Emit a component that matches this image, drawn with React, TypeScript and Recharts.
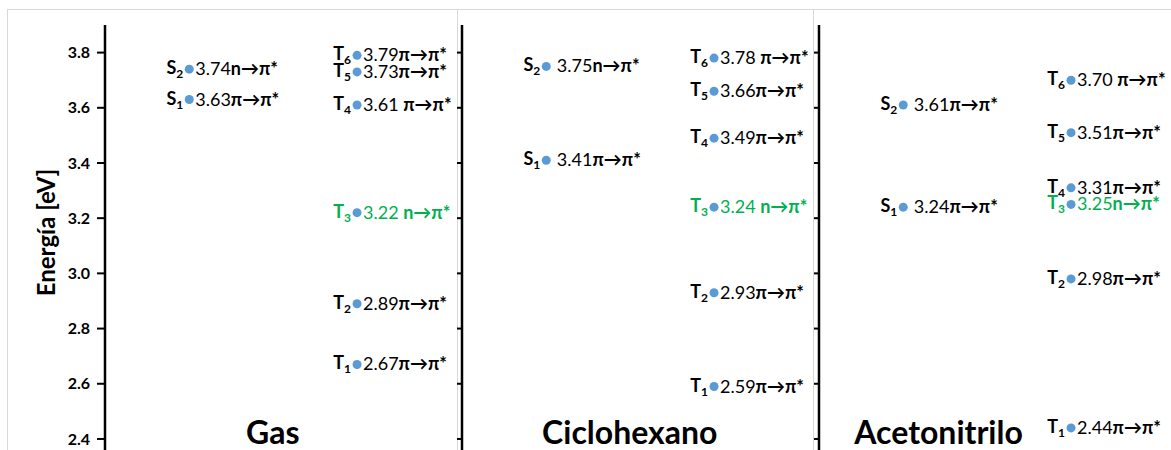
import React from 'react';
import { ScatterChart, Scatter, XAxis, YAxis, ReferenceLine, ReferenceDot } from 'recharts';

// solvents and excited states
const solvents = ['Gas', 'Ciclohexano', 'Acetonitrilo'];
const stateNames = ['S2', 'S1', 'T6', 'T5', 'T4', 'T3', 'T2', 'T1'];
const highlightState = 'T3';

const gasEnergies = [3.74, 3.63, 3.79, 3.73, 3.61, 3.22, 2.89, 2.67];
const gasTransitions = ['n→π*', 'π→π*', 'π→π*', 'π→π*', 'π→π*', 'n→π*', 'π→π*', 'π→π*'];
const gasLeads = ['', '', '', '', '', '', '', ''];
const gasGaps = ['', '', '', '', ' ', ' ', '', ''];

const cicloEnergies = [3.75, 3.41, 3.78, 3.66, 3.49, 3.24, 2.93, 2.59];
const cicloTransitions = ['n→π*', 'π→π*', 'π→π*', 'π→π*', 'π→π*', 'n→π*', 'π→π*', 'π→π*'];
const cicloLeads = [' ', ' ', '', '', '', '', '', ''];
const cicloGaps = ['', '', ' ', '', '', ' ', '', ''];

const acetoEnergies = [3.61, 3.24, 3.70, 3.51, 3.31, 3.25, 2.98, 2.44];
const acetoTransitions = ['π→π*', 'π→π*', 'π→π*', 'π→π*', 'π→π*', 'n→π*', 'π→π*', 'π→π*'];
const acetoLeads = [' ', ' ', '', '', '', '', '', ''];
const acetoGaps = ['', '', ' ', '', '', '', '', ''];

const yTicks = [2.4, 2.6, 2.8, 3.0, 3.2, 3.4, 3.6, 3.8];
const titleOffsets = [0.47, 0.47, 0.335];

const FONT = 'Lato, "Open Sans", sans-serif';
const DOT_COLOR = '#5b9bd5';
const GREEN = '#00b050';
const S_OFFSET = 0.236;
const T_OFFSET = 0.706;

const panels = [
  { energies: gasEnergies, transitions: gasTransitions, leads: gasLeads, gaps: gasGaps },
  { energies: cicloEnergies, transitions: cicloTransitions, leads: cicloLeads, gaps: cicloGaps },
  { energies: acetoEnergies, transitions: acetoTransitions, leads: acetoLeads, gaps: acetoGaps },
];

const points = panels.flatMap((p, i) =>
  stateNames.map((s, j) => ({
    x: i + (s[0] === 'S' ? S_OFFSET : T_OFFSET),
    y: p.energies[j],
    state: s,
    trans: p.transitions[j],
    lead: p.leads[j],
    gap: p.gaps[j],
  }))
);

const PointShape = (props: any) => {
  const { cx, cy, payload } = props;
  const color = payload.state === highlightState ? GREEN : '#000';
  return (
    <g>
      <circle cx={cx} cy={cy} r={4.5} fill={DOT_COLOR} />
      <text x={cx - 6} y={cy + 5} textAnchor="end" fill={color} fontSize={18} fontWeight="bold" fontFamily={FONT}>
        {payload.state[0]}
        <tspan fontSize={12} dy={4}>{payload.state.slice(1)}</tspan>
      </text>
      <text x={cx + 6} y={cy + 6} fill={color} fontSize={18} fontFamily={FONT} style={{ whiteSpace: 'pre' }}>
        {payload.lead}
        {payload.y.toFixed(2)}
        {payload.gap}
        <tspan fontWeight="bold">{payload.trans}</tspan>
      </text>
    </g>
  );
};

const YLabel = (props: any) => {
  const { viewBox } = props;
  const cx = 45;
  const cy = viewBox.y + viewBox.height / 2 - 5;
  return (
    <text x={cx} y={cy} transform={`rotate(-90, ${cx}, ${cy})`} textAnchor="middle" dominantBaseline="central"
      fontSize={24} fontWeight="bold" fontFamily={FONT} fill="#000">
      Energía [eV]
    </text>
  );
};

const frame = '#d9d9d9';

export default function App() {
  return (
    <div style={{ position: 'absolute', left: 0, top: 0, width: 1171, height: 450, background: '#fff' }}>
      <div style={{ position: 'absolute', left: 7, top: 9, width: 1164, height: 1, background: frame }} />
      <div style={{ position: 'absolute', left: 7, top: 9, width: 1, height: 441, background: frame }} />
      <div style={{ position: 'absolute', left: 457, top: 9, width: 1, height: 441, background: frame }} />
      <div style={{ position: 'absolute', left: 813, top: 9, width: 1, height: 441, background: frame }} />
      <div style={{ position: 'absolute', left: 0, top: 0 }}>
        <ScatterChart width={1171} height={450} margin={{ top: 25, right: 0, bottom: 0, left: 0 }}>
          <XAxis type="number" dataKey="x" domain={[0, 2.986]} hide allowDataOverflow />
          <YAxis
            type="number"
            dataKey="y"
            domain={[2.36, 3.9]}
            ticks={yTicks}
            allowDataOverflow
            width={105}
            tickSize={8}
            tickMargin={7}
            tickFormatter={(v: number) => v.toFixed(1)}
            tick={{ fill: '#000', fontSize: 16, fontWeight: 'bold', fontFamily: FONT }}
            axisLine={{ stroke: '#000', strokeWidth: 2.5 }}
            tickLine={{ stroke: '#000', strokeWidth: 2 }}
            label={<YLabel />}
          />
          {/* axes of the second and third panels */}
          {[1, 2].map((k) => (
            <ReferenceLine key={`ax${k}`} x={k} stroke="#000" strokeWidth={2.5} />
          ))}
          {[1, 2].flatMap((k) =>
            yTicks.map((t) => (
              <ReferenceLine
                key={`tk${k}-${t}`}
                segment={[{ x: k - 0.014, y: t }, { x: k, y: t }]}
                stroke="#000"
                strokeWidth={2}
              />
            ))
          )}
          {solvents.map((name, i) => (
            <ReferenceDot
              key={name}
              x={i + titleOffsets[i]}
              y={2.36}
              r={0}
              shape={(p: any) => (
                <text x={p.cx} y={p.cy - 6} textAnchor="middle" fontSize={32} fontWeight="bold" fontFamily={FONT} fill="#000">
                  {name}
                </text>
              )}
            />
          ))}
          <Scatter data={points} shape={PointShape} isAnimationActive={false} />
        </ScatterChart>
      </div>
    </div>
  );
}
